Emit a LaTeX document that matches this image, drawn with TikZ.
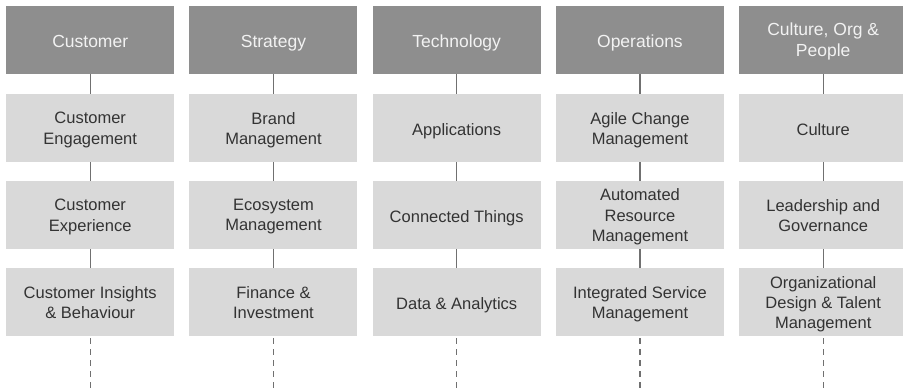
\documentclass[tikz,border=0pt]{standalone}
\usepackage{fontspec}
\setmainfont{Liberation Sans}
\definecolor{hdrfill}{HTML}{8E8E8E}
\definecolor{hdrtext}{HTML}{F2F2F2}
\definecolor{boxfill}{HTML}{D9D9D9}
\definecolor{boxtext}{HTML}{333333}
\definecolor{linkcol}{HTML}{707070}
\tikzset{
  boxbase/.style={draw=none, minimum width=168pt, minimum height=68pt, inner sep=0pt, anchor=north west},
  hdr/.style={boxbase, fill=hdrfill},
  sub/.style={boxbase, fill=boxfill},
  txtbase/.style={inner sep=0pt, align=center, anchor=center,
    execute at begin node=\strut, execute at end node=\strut},
  hdrtxt/.style={txtbase, text=hdrtext, font=\fontsize{17.5}{21}\selectfont},
  subtxt/.style={txtbase, text=boxtext, font=\fontsize{16.5}{20.2}\selectfont},
  link/.style={draw=linkcol, line width=1.3pt},
  dlink/.style={draw=linkcol, line width=1.3pt, dash pattern=on 6pt off 5pt}
}
\begin{document}
\begin{tikzpicture}[x=1pt, y=-1pt]
\useasboundingbox (0,0) rectangle (903,390);
\clip (0,0) rectangle (903,390);
\foreach \i/\h/\a/\b/\c in {
  0/{Customer}/{Customer\\Engagement}/{Customer\\Experience}/{Customer Insights\\\& Behaviour},
  1/{Strategy}/{Brand\\Management}/{Ecosystem\\Management}/{Finance \&\\Investment},
  2/{Technology}/{Applications}/{Connected Things}/{Data \& Analytics},
  3/{Operations}/{Agile Change\\Management}/{Automated\\Resource\\Management}/{Integrated Service\\Management},
  4/{Culture, Org \&\\People}/{Culture}/{Leadership and\\Governance}/{Organizational\\Design \& Talent\\Management}}
{
  \pgfmathsetmacro{\xl}{6+183.25*\i}
  \node[hdr] (h\i) at (\xl,6) {};
  \node[sub] (a\i) at (\xl,94) {};
  \node[sub] (b\i) at (\xl,181) {};
  \node[sub] (c\i) at (\xl,268) {};
  \node[hdrtxt] (th\i) at ([yshift=-3pt]h\i.center) {\h};
  \node[subtxt] (ta\i) at ([yshift=-3pt]a\i.center) {\a};
  \node[subtxt] (tb\i) at ([yshift=-3pt]b\i.center) {\b};
  \node[subtxt] (tc\i) at ([yshift=-3.5pt]c\i.center) {\c};
  \coordinate (e\i) at ([yshift=-56pt]c\i.south);
  \draw[link] (h\i.south) -- (a\i.north);
  \draw[link] (a\i.south) -- (b\i.north);
  \draw[link] (b\i.south) -- (c\i.north);
  \draw[dlink] ([yshift=-2pt]c\i.south) -- (e\i);
}
\end{tikzpicture}
\end{document}
